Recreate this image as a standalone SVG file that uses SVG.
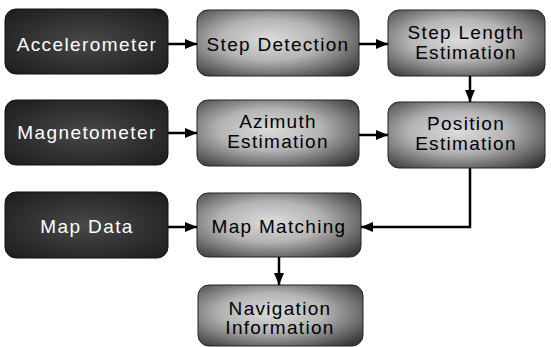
<svg xmlns="http://www.w3.org/2000/svg" width="551" height="347" viewBox="0 0 551 347">
<defs>
<radialGradient id="gDark" cx="50%" cy="50%" r="70%">
<stop offset="0" stop-color="#484848"/>
<stop offset="1" stop-color="#1c1c1c"/>
</radialGradient>
<radialGradient id="gLight" cx="45%" cy="45%" r="70%">
<stop offset="0" stop-color="#dcdcdc"/>
<stop offset="0.45" stop-color="#b4b4b4"/>
<stop offset="1" stop-color="#383838"/>
</radialGradient>
<marker id="ah" viewBox="0 0 12 10" refX="12" refY="5" markerWidth="12" markerHeight="10" markerUnits="userSpaceOnUse" orient="auto">
<path d="M0,0 L12,5 L0,10 z" fill="#000"/>
</marker>
</defs>
<style>
.dark{fill:url(#gDark);stroke:#111;stroke-width:1}
.light{fill:url(#gLight);stroke:#222;stroke-width:1}
.tw{font-family:"Liberation Sans",Arial,sans-serif;font-size:19px;fill:#fff;text-anchor:middle;letter-spacing:1.4px}
.tb{font-family:"Liberation Sans",Arial,sans-serif;font-size:19px;fill:#000;text-anchor:middle;letter-spacing:1.3px}
.c{fill:none;stroke:#000;stroke-width:2.5;marker-end:url(#ah)}
</style>
<rect width="551" height="347" fill="#fff"/>
<g id="accelerometer"><rect class="dark" x="5" y="9" width="163" height="65" rx="11"/><text class="tw" x="87" y="51">Accelerometer</text></g>
<g id="step-detection"><rect class="light" x="197" y="10" width="162" height="66" rx="11"/><text class="tb" x="278" y="51">Step Detection</text></g>
<g id="step-length"><rect class="light" x="388" y="10" width="157" height="66" rx="11"/><text class="tb" x="466" y="39">Step Length</text><text class="tb" x="466" y="59">Estimation</text></g>
<g id="magnetometer"><rect class="dark" x="5" y="100" width="163" height="65" rx="11"/><text class="tw" x="87" y="139">Magnetometer</text></g>
<g id="azimuth"><rect class="light" x="197" y="100" width="162" height="66" rx="11"/><text class="tb" x="278" y="128">Azimuth</text><text class="tb" x="278" y="148">Estimation</text></g>
<g id="position"><rect class="light" x="388" y="102" width="157" height="66" rx="11"/><text class="tb" x="466" y="130">Position</text><text class="tb" x="466" y="150">Estimation</text></g>
<g id="map-data"><rect class="dark" x="5" y="192" width="163" height="66" rx="11"/><text class="tw" x="87" y="233">Map Data</text></g>
<g id="map-matching"><rect class="light" x="197" y="193" width="164" height="64" rx="11"/><text class="tb" x="279" y="233">Map Matching</text></g>
<g id="navigation"><rect class="light" x="198" y="285" width="165" height="61" rx="11"/><text class="tb" x="280" y="315">Navigation</text><text class="tb" x="280" y="334">Information</text></g>
<g id="connectors">
<path class="c" d="M168,44 L197,44"/>
<path class="c" d="M359,44 L388,44"/>
<path class="c" d="M470,76 L470,102"/>
<path class="c" d="M168,133 L197,133"/>
<path class="c" d="M359,135 L388,135"/>
<path class="c" d="M470,168 L470,227 L361,227"/>
<path class="c" d="M168,227 L197,227"/>
<path class="c" d="M279,257 L279,285"/>
</g>
</svg>
